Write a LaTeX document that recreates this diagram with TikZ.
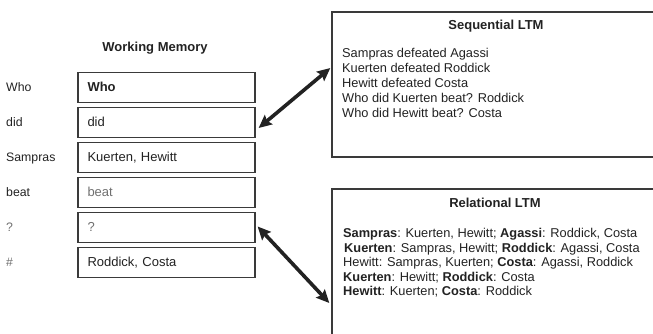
\documentclass[tikz,border=0pt]{standalone}
\usepackage{fontspec}
\setmainfont{Liberation Sans}
\usetikzlibrary{arrows.meta}
\definecolor{ink}{HTML}{222222}
\definecolor{edge}{HTML}{3A3A3A}
\definecolor{faint}{HTML}{707070}
\tikzset{
  wmbox/.style={draw=edge, line width=1.3pt, text width=158pt, inner xsep=9.5pt, inner ysep=0pt,
    minimum height=30pt, align=left, text height=8.5pt, text depth=0pt,
    font=\fontsize{13}{15}\selectfont, text=ink},
  ltmbox/.style={draw=edge, line width=1.4pt, minimum width=328pt, inner sep=0pt},
  lbl/.style={anchor=base west, inner sep=0pt, font=\fontsize{12.3}{14}\selectfont, text=ink},
  ttl/.style={anchor=base, inner sep=0pt, font=\fontsize{13}{15}\selectfont\bfseries, text=ink},
  ltmtxt/.style={anchor=base west, inner sep=0pt, font=\fontsize{12.8}{15}\selectfont, text=ink},
  dbl/.style={{Stealth[length=13pt,width=12pt,inset=2pt]}-{Stealth[length=13pt,width=12pt,inset=2pt]},
    line width=3.6pt, draw=ink}
}
\begin{document}
\begin{tikzpicture}[x=1pt,y=-1pt]
\useasboundingbox (0,0) rectangle (653,333);
\clip (0,0) rectangle (653,333);
% Working memory
\node[ttl] (wmt) at (155,51.5) {Working Memory};
\node[wmbox] (wm1) at (166.5,87.5) {\textbf{Who}};
\node[wmbox] (wm2) at (166.5,122.5) {did};
\node[wmbox] (wm3) at (166.5,157.5) {Kuerten, Hewitt};
\node[wmbox] (wm4) at (166.5,192.5) {\textcolor{faint}{beat}};
\node[wmbox] (wm5) at (166.5,227.5) {\textcolor{faint}{?}};
\node[wmbox] (wm6) at (166.5,262.5) {Roddick, Costa};
\node[lbl] (l1) at (6,91.5) {Who};
\node[lbl] (l2) at (6,126.5) {did};
\node[lbl] (l3) at (6,161.5) {Sampras};
\node[lbl] (l4) at (6,196.5) {beat};
\node[lbl,text=faint] (l5) at (6,231.5) {?};
\node[lbl,text=faint] (l6) at (6,266.5) {\#};
% Sequential LTM
\node[ltmbox, minimum height=145pt] (seq) at (496,84.5) {};
\node[ttl] (seqt) at (496,29.5) {Sequential LTM};
\node[ltmtxt] (s1) at (342,57.5) {Sampras defeated Agassi};
\node[ltmtxt] (s2) at (342,72.5) {Kuerten defeated Roddick};
\node[ltmtxt] (s3) at (342,87.5) {Hewitt defeated Costa};
\node[ltmtxt] (s4) at (342,102.5) {Who did Kuerten beat? Roddick};
\node[ltmtxt] (s5) at (342,117.5) {Who did Hewitt beat? Costa};
% Relational LTM
\node[ltmbox, minimum height=156pt] (rel) at (496,267) {};
\node[ttl] (relt) at (495,207.5) {Relational LTM};
\node[ltmtxt] (r1) at (343,237.5) {\textbf{Sampras}: Kuerten, Hewitt; \textbf{Agassi}: Roddick, Costa};
\node[ltmtxt] (r2) at (344,252) {\textbf{Kuerten}: Sampras, Hewitt; \textbf{Roddick}: Agassi, Costa};
\node[ltmtxt] (r3) at (343,266.5) {Hewitt: Sampras, Kuerten; \textbf{Costa}: Agassi, Roddick};
\node[ltmtxt] (r4) at (343,281) {\textbf{Kuerten}: Hewitt; \textbf{Roddick}: Costa};
\node[ltmtxt] (r5) at (343,295.5) {\textbf{Hewitt}: Kuerten; \textbf{Costa}: Roddick};
% arrows
\draw[dbl] ([xshift=3pt,yshift=-5.5pt]wm2.east) -- ([xshift=-1pt,yshift=16.5pt]seq.west);
\draw[dbl] ([xshift=2pt,yshift=1pt]wm5.east) -- ([xshift=-2pt,yshift=-36pt]rel.west);
\end{tikzpicture}
\end{document}
